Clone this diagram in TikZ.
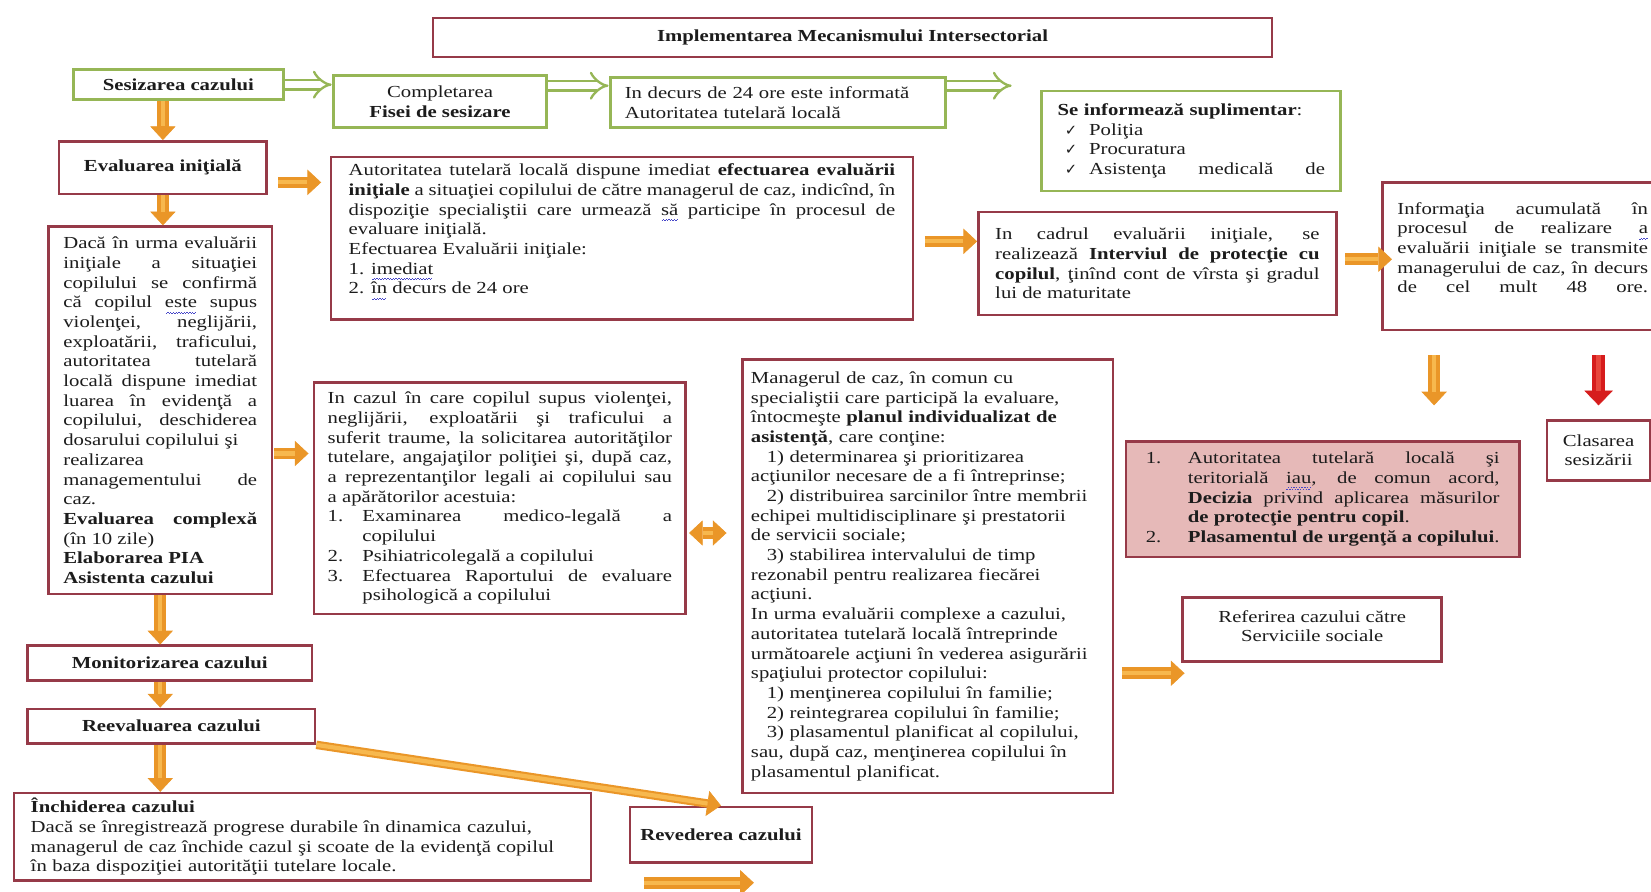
\documentclass[tikz,border=0pt]{standalone}
\usepackage{fontspec}
\setmainfont{Liberation Serif}[FakeStretch=1.23]
\newfontfamily\symfont{DejaVu Sans}
\usetikzlibrary{arrows.meta}

\definecolor{boxred}{RGB}{150,58,72}
\definecolor{boxgreen}{RGB}{150,182,86}
\definecolor{boxpink}{RGB}{230,185,184}
\definecolor{arrdark}{RGB}{234,150,40}
\definecolor{arrlight}{RGB}{247,184,78}
\definecolor{reddark}{RGB}{214,28,28}
\definecolor{redlight}{RGB}{232,70,60}
\definecolor{squigblue}{RGB}{70,70,200}
\definecolor{inkgray}{RGB}{28,28,28}

\tolerance=10000
\hbadness=10000

\newsavebox{\sqbox}
\newcommand{\squig}[1]{\sbox{\sqbox}{#1}\rlap{\color{squigblue}\hbox to \wd\sqbox{\cleaders\hbox{\rule[-5.6pt]{1.3pt}{0.9pt}\rule[-4.5pt]{1.3pt}{0.9pt}}\hfill}}\usebox{\sqbox}}
\newcommand{\chk}{\makebox[30pt][l]{\hspace*{7pt}{\symfont\fontsize{14pt}{14pt}\selectfont ✓}}}
\newcommand{\nr}[2][36pt]{\makebox[#1][l]{#2}}

\begin{document}
\begin{tikzpicture}[x=1pt, y=-1pt, every node/.style={font=\fontsize{16pt}{18.7pt}\selectfont, text=inkgray}]
    \tikzset{
        otip/.tip={Triangle[length=13pt,width=24pt,line width=0.6pt]},
        redbox/.style={draw=boxred, line width=2.4pt, fill=white, inner sep=0pt, anchor=north west},
        greenbox/.style={redbox, draw=boxgreen, line width=2.8pt},
        pinkbox/.style={redbox, fill=boxpink},
        oarrow/.style={draw=arrdark, line width=11pt, -otip,
            postaction={draw=arrlight, line width=4pt, arrows=-, shorten >=#1}},
        oarrow/.default=13pt,
        rarrow/.style={draw=reddark, line width=12pt, -{Triangle[length=14pt,width=27pt,line width=0.6pt]},
            postaction={draw=redlight, line width=4pt, arrows=-, shorten >=#1}},
        rarrow/.default=27pt,
        darrow/.style={draw=arrdark, line width=11pt, otip-otip, shorten <=2pt, shorten >=14pt,
            postaction={draw=arrlight, line width=4pt, arrows=-, shorten <=15pt, shorten >=27pt}},
        garrow/.style={draw=boxgreen, line width=2.2pt, double=white, double distance=7pt, -{Implies}}
    }
    \useasboundingbox (0,0) rectangle (1568,847);

    \node[redbox, minimum width=797pt, minimum height=37pt] (title) at (410,16) {\textbf{Implementarea Mecanismului Intersectorial}};
    \node[greenbox, minimum width=200pt, minimum height=28pt] (sesiz) at (68,65) {\textbf{Sesizarea cazului}};
    \node[greenbox, minimum width=203pt, minimum height=50pt, align=center] (compl) at (315,70) {Completarea\\ \textbf{Fisei de sesizare}};
    \node[greenbox, minimum height=48pt, text width=291pt, inner xsep=14pt, align=left] (indec) at (578,72) {In decurs de 24 ore este informată\\ Autoritatea tutelară locală};
    \node[greenbox, minimum height=95pt, text width=254pt, inner xsep=15pt, align=left] (seinf) at (988,85) {\textbf{Se informează suplimentar}:\\
        \chk Poliţia\\
        \chk Procuratura\\
        \chk Asistenţa\hfill medicală\hfill de};

    \node[redbox, minimum width=197pt, minimum height=50pt] (evali) at (55,133) {\textbf{Evaluarea iniţială}};
    \node[redbox, minimum height=154pt, text width=519pt, inner xsep=17pt, align=justify] (autor) at (313,148) {Autoritatea tutelară locală dispune imediat \textbf{efectuarea evaluării}\linebreak
        \textbf{iniţiale} a situaţiei copilului de către managerul de caz, indicînd, în\linebreak
        dispoziţie specialiştii care urmează \squig{să} participe în procesul de\linebreak
        evaluare iniţială.\\
        Efectuarea Evaluării iniţiale:\\
        1. \squig{imediat}\\
        2. \squig{în} decurs de 24 ore\par\vspace*{12pt}};
    \node[redbox, minimum height=98pt, text width=308pt, inner xsep=16pt, align=justify] (incad) at (928,200) {In cadrul evaluării iniţiale, se\linebreak
        realizează \textbf{Interviul de protecţie cu}\linebreak
        \textbf{copilul}, ţinînd cont de vîrsta şi gradul\linebreak
        lui de maturitate};
    \node[redbox, minimum height=140pt, text width=238pt, inner xsep=14pt, align=justify] (info) at (1312,172) {Informaţia acumulată în\linebreak
        procesul de realizare \squig{a}\linebreak
        evaluării iniţiale se transmite\linebreak
        managerului de caz, în decurs\linebreak
        de\hfill cel\hfill mult\hfill 48\hfill ore.\par\vspace*{16pt}};

    \node[redbox, minimum height=349pt, text width=184pt, inner xsep=14pt, align=justify] (big) at (45,214) {Dacă în urma evaluării\linebreak
        iniţiale a situaţiei\linebreak
        copilului se confirmă\linebreak
        că copilul \squig{este} supus\linebreak
        violenţei, neglijării,\linebreak
        exploatării, traficului,\linebreak
        autoritatea tutelară\linebreak
        locală dispune imediat\linebreak
        luarea în evidenţă a\linebreak
        copilului, deschiderea\linebreak
        dosarului copilului şi\\
        realizarea\\
        managementului de\linebreak
        caz.\\
        \textbf{Evaluarea complexă}\linebreak
        (în 10 zile)\\
        \textbf{Elaborarea PIA}\\
        \textbf{Asistenta cazului}};
    \node[redbox, minimum height=220pt, text width=327pt, inner xsep=13pt, align=justify] (cazul) at (297,362) {In cazul în care copilul supus violenţei,\linebreak
        neglijării, exploatării şi traficului a\linebreak
        suferit traume, la solicitarea autorităţilor\linebreak
        tutelare, angajaţilor poliţiei şi, după caz,\linebreak
        a reprezentanţilor legali ai copilului sau\linebreak
        a apărătorilor acestuia:\\
        \nr[33pt]{1.}Examinarea\hfill medico-legală\hfill a\\
        \hspace*{33pt}copilului\\
        \nr[33pt]{2.}Psihiatricolegală a copilului\\
        \nr[33pt]{3.}Efectuarea Raportului de evaluare\linebreak
        \hspace*{33pt}psihologică a copilului};
    \node[redbox, minimum height=412pt, text width=336pt, inner xsep=8pt, align=left] (manag) at (704,340) {Managerul de caz, în comun cu\\
        specialiştii care participă la evaluare,\\
        întocmeşte \textbf{planul individualizat de}\\
        \textbf{asistenţă}, care conţine:\\
        \hspace*{15pt}1) determinarea şi prioritizarea\\
        acţiunilor necesare de a fi întreprinse;\\
        \hspace*{15pt}2) distribuirea sarcinilor între membrii\\
        echipei multidisciplinare şi prestatorii\\
        de servicii sociale;\\
        \hspace*{15pt}3) stabilirea intervalului de timp\\
        rezonabil pentru realizarea fiecărei\\
        acţiuni.\\
        In urma evaluării complexe a cazului,\\
        autoritatea tutelară locală întreprinde\\
        următoarele acţiuni în vederea asigurării\\
        spaţiului protector copilului:\\
        \hspace*{15pt}1) menţinerea copilului în familie;\\
        \hspace*{15pt}2) reintegrarea copilului în familie;\\
        \hspace*{15pt}3) plasamentul planificat al copilului,\\
        sau, după caz, menţinerea copilului în\\
        plasamentul planificat.};
    \node[pinkbox, minimum height=110pt, text width=336pt, inner xsep=19pt, align=justify] (pink) at (1068,418) {\nr[40pt]{1.}Autoritatea\hfill tutelară\hfill locală\hfill şi\\
        \hspace*{40pt}teritorială \squig{iau}, de comun acord,\linebreak
        \hspace*{40pt}\textbf{Decizia} privind aplicarea măsurilor\linebreak
        \hspace*{40pt}\textbf{de protecţie pentru copil}.\\
        \nr[40pt]{2.}\textbf{Plasamentul de urgenţă a copilului}.};
    \node[redbox, minimum width=98pt, minimum height=57pt, align=center] (clas) at (1468,398) {Clasarea\\ sesizării};
    \node[redbox, minimum width=246pt, minimum height=61pt, align=center] (ref) at (1122,566) {Referirea cazului către\\ Serviciile sociale\par\vspace*{6pt}};

    \node[redbox, minimum width=270pt, minimum height=33pt] (monit) at (25,612) {\textbf{Monitorizarea cazului}};
    \node[redbox, minimum width=273pt, minimum height=33pt] (reev) at (25,672) {\textbf{Reevaluarea cazului}};
    \node[redbox, minimum height=83pt, text width=516pt, inner xsep=16pt, align=left] (inch) at (12,752) {\textbf{Închiderea cazului}\\
        Dacă se înregistrează progrese durabile în dinamica cazului,\\
        managerul de caz închide cazul şi scoate de la evidenţă copilul\\
        în baza dispoziţiei autorităţii tutelare locale.};
    \node[redbox, minimum width=173pt, minimum height=53pt] (rev) at (597,765) {\textbf{Revederea cazului}};

    \coordinate (g2) at ([yshift=15pt]compl.east);
    \coordinate (g3) at ([yshift=16pt]indec.east);
    \coordinate (g3end) at ([xshift=61pt]g3);
    \draw[garrow] (sesiz.east) -- (sesiz.east -| compl.west);
    \draw[garrow] (g2) -- (g2 -| indec.west);
    \draw[garrow] (g3) -- (g3end);

    \coordinate (o2) at ([yshift=-14pt]evali.east);
    \coordinate (o4) at ([yshift=-41pt]big.east);
    \coordinate (o5) at ([yshift=-33pt]cazul.east);
    \coordinate (o6) at ([yshift=-3pt]autor.east);
    \coordinate (o7) at ([yshift=4pt]incad.east);
    \coordinate (o8) at ([xshift=50pt]info.south west);
    \coordinate (o10) at ([yshift=-10pt]ref.south west);
    \coordinate (o15) at ([shift={(15pt,-18pt)}]rev.south west);
    \coordinate (o15end) at ([xshift=104pt]o15);

    \draw[oarrow] (sesiz.south -| evali.north) -- (evali.north);
    \draw[oarrow=21pt, shorten <=10pt, shorten >=8pt] (o2) -- (o2 -| autor.west);
    \draw[oarrow] (evali.south) -- (evali.south |- big.north);
    \draw[oarrow=17pt, shorten <=1pt, shorten >=4pt] (o4) -- (o4 -| cazul.west);
    \draw[darrow] (o5) -- (o5 -| manag.west);
    \draw[oarrow, shorten <=10pt] (o6) -- (o6 -| incad.west);
    \draw[oarrow=3pt, shorten <=7pt, shorten >=-10pt] (o7) -- (o7 -| info.west);
    \draw[oarrow=46pt, shorten <=23pt, shorten >=33pt] (o8) -- (o8 |- pink.north);
    \draw[rarrow, shorten <=23pt, shorten >=13pt] (clas.north |- info.south) -- (clas.north);
    \draw[oarrow=10pt, shorten <=7pt, shorten >=-3pt] (o10 -| manag.east) -- (o10);
    \draw[oarrow] (big.south) -- (big.south |- monit.north);
    \draw[oarrow] (big.south |- monit.south) -- (big.south |- reev.north);
    \draw[oarrow] (big.south |- reev.south) -- (big.south |- inch.north);
    \draw[oarrow, line width=8pt] (reev.south east) -- (rev.north);
    \draw[oarrow] (o15) -- (o15end);
\end{tikzpicture}
\end{document}
